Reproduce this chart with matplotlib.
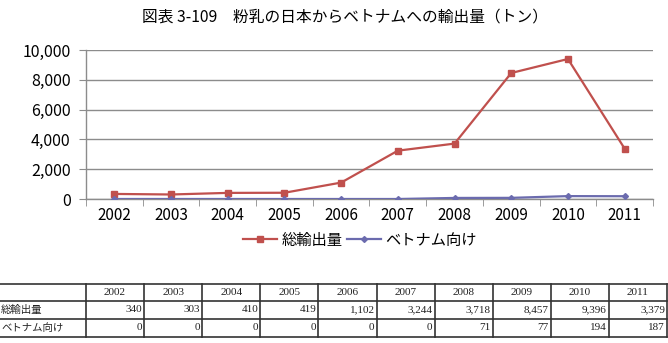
import matplotlib
matplotlib.use("Agg")
import matplotlib.pyplot as plt
from matplotlib.ticker import FuncFormatter, FixedLocator

plt.rcParams['font.family'] = ['Noto Sans CJK JP', 'DejaVu Sans']

years = [2002, 2003, 2004, 2005, 2006, 2007, 2008, 2009, 2010, 2011]
total_exports = [340, 303, 410, 419, 1102, 3244, 3718, 8457, 9396, 3379]
vietnam_exports = [0, 0, 0, 0, 0, 0, 71, 77, 194, 187]
series_names = ["総輸出量", "ベトナム向け"]
title = "図表 3-109　粉乳の日本からベトナムへの輸出量（トン）"

W, H = 668, 343
fig = plt.figure(figsize=(W / 100, H / 100), dpi=100)

# plot area in pixels
L, R, T, B = 86, 653, 50, 199
ax = fig.add_axes([L / W, 1 - B / H, (R - L) / W, (B - T) / H])

x = list(range(len(years)))
red = '#C0504D'
blue = '#6B6BAE'
ax.plot(x, total_exports, color=red, lw=1.6, marker='s', ms=5, mec=red, mfc=red,
        label=series_names[0], zorder=3)
ax.plot(x, vietnam_exports, color=blue, lw=1.6, marker='D', ms=3, mec=blue, mfc=blue,
        label=series_names[1], zorder=3)

ax.set_xlim(-0.5, len(years) - 0.5)
ax.set_ylim(0, 10000)
ax.set_yticks(range(0, 10001, 2000))
ax.yaxis.set_major_formatter(FuncFormatter(lambda v, p: f"{int(v):,}"))
ax.grid(axis='y', color='#8C8C8C', lw=1)
ax.set_axisbelow(True)

ax.set_xticks(x)
ax.set_xticklabels([str(y) for y in years])
ax.xaxis.set_minor_locator(FixedLocator([i - 0.5 for i in range(len(years) + 1)]))
ax.tick_params(axis='x', which='major', length=0, pad=6, labelsize=11)
ax.tick_params(axis='x', which='minor', length=5, color='#8C8C8C', direction='out')
ax.tick_params(axis='y', length=5, color='#8C8C8C', pad=6, labelsize=11.5)

for s in ['top', 'right']:
    ax.spines[s].set_visible(False)
for s in ['left', 'bottom']:
    ax.spines[s].set_color('#8C8C8C')
    ax.spines[s].set_linewidth(1)

fig.text(345 / W, 1 - 17 / H, title, ha='center', va='center', fontsize=11.3)

leg = ax.legend(loc='center', bbox_to_anchor=(360 / W, 1 - 240 / H),
                bbox_transform=fig.transFigure, ncol=2, frameon=False,
                fontsize=11, handlelength=2.2, handletextpad=0.3,
                columnspacing=0.3, borderpad=0)

# data table
tax = fig.add_axes([0, 0, 1, 1])
tax.set_xlim(0, W)
tax.set_ylim(H, 0)
tax.axis('off')
col0_right = 86
col_w = (667 - col0_right) / len(years)
rows_y = [284, 301, 319, 337]
for yy in rows_y:
    tax.plot([0, 667], [yy, yy], color='#333333', lw=1.2)
for i in range(len(years) + 1):
    xx = col0_right + i * col_w
    tax.plot([xx, xx], [rows_y[0], rows_y[-1]], color='#333333', lw=1.2)

tfont = ['Liberation Serif', 'Noto Sans CJK JP']
for i, yv in enumerate(years):
    cx = col0_right + (i + 0.5) * col_w
    tax.text(cx, (rows_y[0] + rows_y[1]) / 2, str(yv), ha='center', va='center',
             fontsize=8, family=tfont, color='#222222')
    rx = col0_right + (i + 1) * col_w - 2
    tax.text(rx, (rows_y[1] + rows_y[2]) / 2, f"{total_exports[i]:,}", ha='right',
             va='center', fontsize=8, family=tfont, color='#222222')
    tax.text(rx, (rows_y[2] + rows_y[3]) / 2, f"{vietnam_exports[i]:,}", ha='right',
             va='center', fontsize=8, family=tfont, color='#222222')
tax.text(1, (rows_y[1] + rows_y[2]) / 2, series_names[0], ha='left', va='center',
         fontsize=7.5, family=['Noto Sans CJK JP'], color='#222222')
tax.text(1, (rows_y[2] + rows_y[3]) / 2, series_names[1], ha='left', va='center',
         fontsize=7.5, family=['Noto Sans CJK JP'], color='#222222')

fig.savefig('out.png', dpi=100)
